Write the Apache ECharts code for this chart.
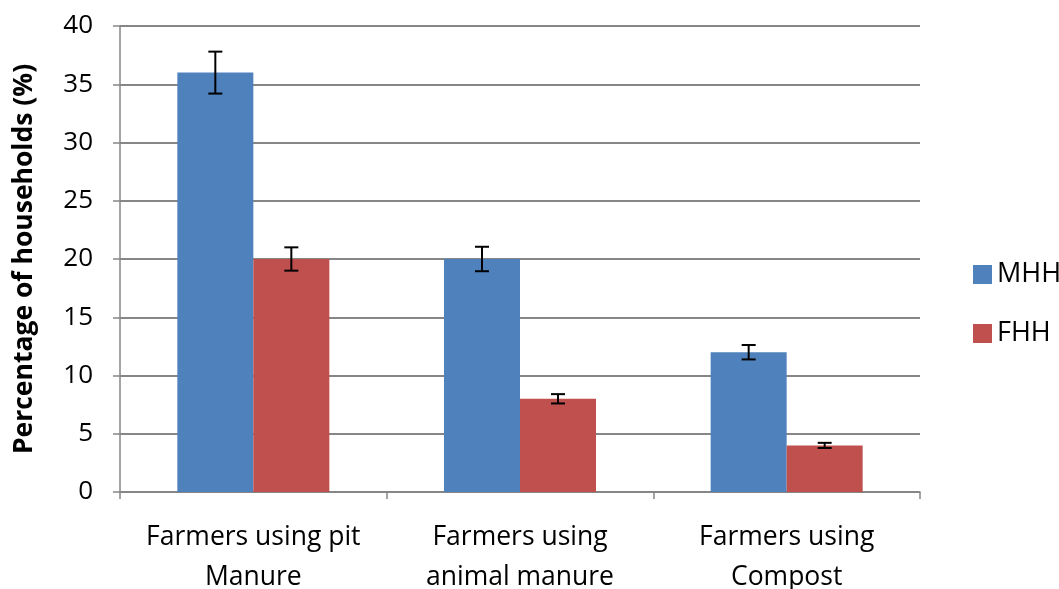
<!DOCTYPE html>
<html><head><meta charset="utf-8">
<script src="https://cdn.jsdelivr.net/npm/echarts@6/dist/echarts.min.js"></script>
<style>html,body{margin:0;padding:0;background:#fff}#c{width:1059px;height:589px}</style>
</head><body><div id="c"></div>
<script>
const categories = ["Farmers using pit\nManure", "Farmers using\nanimal manure", "Farmers using\nCompost"];
const mhhValues = [36, 20, 12];
const fhhValues = [20, 8, 4];
const mhhErrors = [1.8, 1.05, 0.62];
const fhhErrors = [1.0, 0.4, 0.22];
const yTicks = [0, 5, 10, 15, 20, 25, 30, 35, 40];

const FONT = '"Open Sans", "Liberation Sans", sans-serif';
const BAR_FRAC = 0.285;

function errSeries(name, values, errs, side) {
  return {
    type: 'custom', name: name + ' err', silent: true, z: 10,
    data: values.map((v, i) => [i, v, errs[i]]),
    renderItem: function (params, api) {
      const i = api.value(0), v = api.value(1), e = api.value(2);
      const band = api.size([1, 0])[0];
      const off = side * band * BAR_FRAC / 2;
      const top = api.coord([i, v + e]);
      const bot = api.coord([i, v - e]);
      const x = top[0] + off;
      const hw = 7;
      const style = { stroke: '#000', lineWidth: 2 };
      return { type: 'group', children: [
        { type: 'line', shape: { x1: x, y1: top[1], x2: x, y2: bot[1] }, style },
        { type: 'line', shape: { x1: x - hw, y1: top[1], x2: x + hw, y2: top[1] }, style },
        { type: 'line', shape: { x1: x - hw, y1: bot[1], x2: x + hw, y2: bot[1] }, style }
      ]};
    }
  };
}

const chart = echarts.init(document.getElementById('c'));
chart.setOption({
  animation: false,
  grid: { left: 120, right: 139, top: 26, bottom: 97, containLabel: false, outerBoundsMode: 'none' },
  legend: {
    orient: 'vertical', left: 968, top: 256, itemGap: 32,
    itemWidth: 19, itemHeight: 19, icon: 'rect', itemStyle: { borderWidth: 0 },
    data: ['MHH', 'FHH'],
    textStyle: { fontFamily: FONT, fontSize: 27, color: '#000', padding: [0, 0, 0, 0] }
  },
  xAxis: {
    type: 'category', data: categories,
    axisLine: { lineStyle: { color: '#868686', width: 1.5 } },
    axisTick: { show: true, length: 7, lineStyle: { color: '#868686', width: 1.5 } },
    axisLabel: { interval: 0, hideOverlap: false, fontFamily: FONT, fontSize: 26.5, color: '#000', lineHeight: 40, margin: 25 }
  },
  yAxis: {
    type: 'value', min: 0, max: 40, interval: 5,
    name: 'Percentage of households (%)', nameLocation: 'middle', nameGap: 70,
    nameTextStyle: { fontFamily: FONT, fontSize: 26.5, fontWeight: 'bold', color: '#000', padding: [0, 0, 12, 0] },
    axisLine: { show: true, lineStyle: { color: '#868686', width: 1.5 } },
    axisTick: { show: true, length: 7, lineStyle: { color: '#868686', width: 1.5 } },
    axisLabel: { fontFamily: FONT, fontSize: 26, color: '#000', margin: 27,
      formatter: v => yTicks.includes(v) ? String(v) : '' },
    splitLine: { lineStyle: { color: '#868686', width: 2 } }
  },
  series: [
    { name: 'MHH', type: 'bar', data: mhhValues, barWidth: (BAR_FRAC * 100) + '%', barGap: '0%',
      itemStyle: { color: '#4F81BD' } },
    { name: 'FHH', type: 'bar', data: fhhValues, barWidth: (BAR_FRAC * 100) + '%', barGap: '0%',
      itemStyle: { color: '#C0504D' } },
    errSeries('MHH', mhhValues, mhhErrors, -1),
    errSeries('FHH', fhhValues, fhhErrors, 1)
  ]
});
</script></body></html>
